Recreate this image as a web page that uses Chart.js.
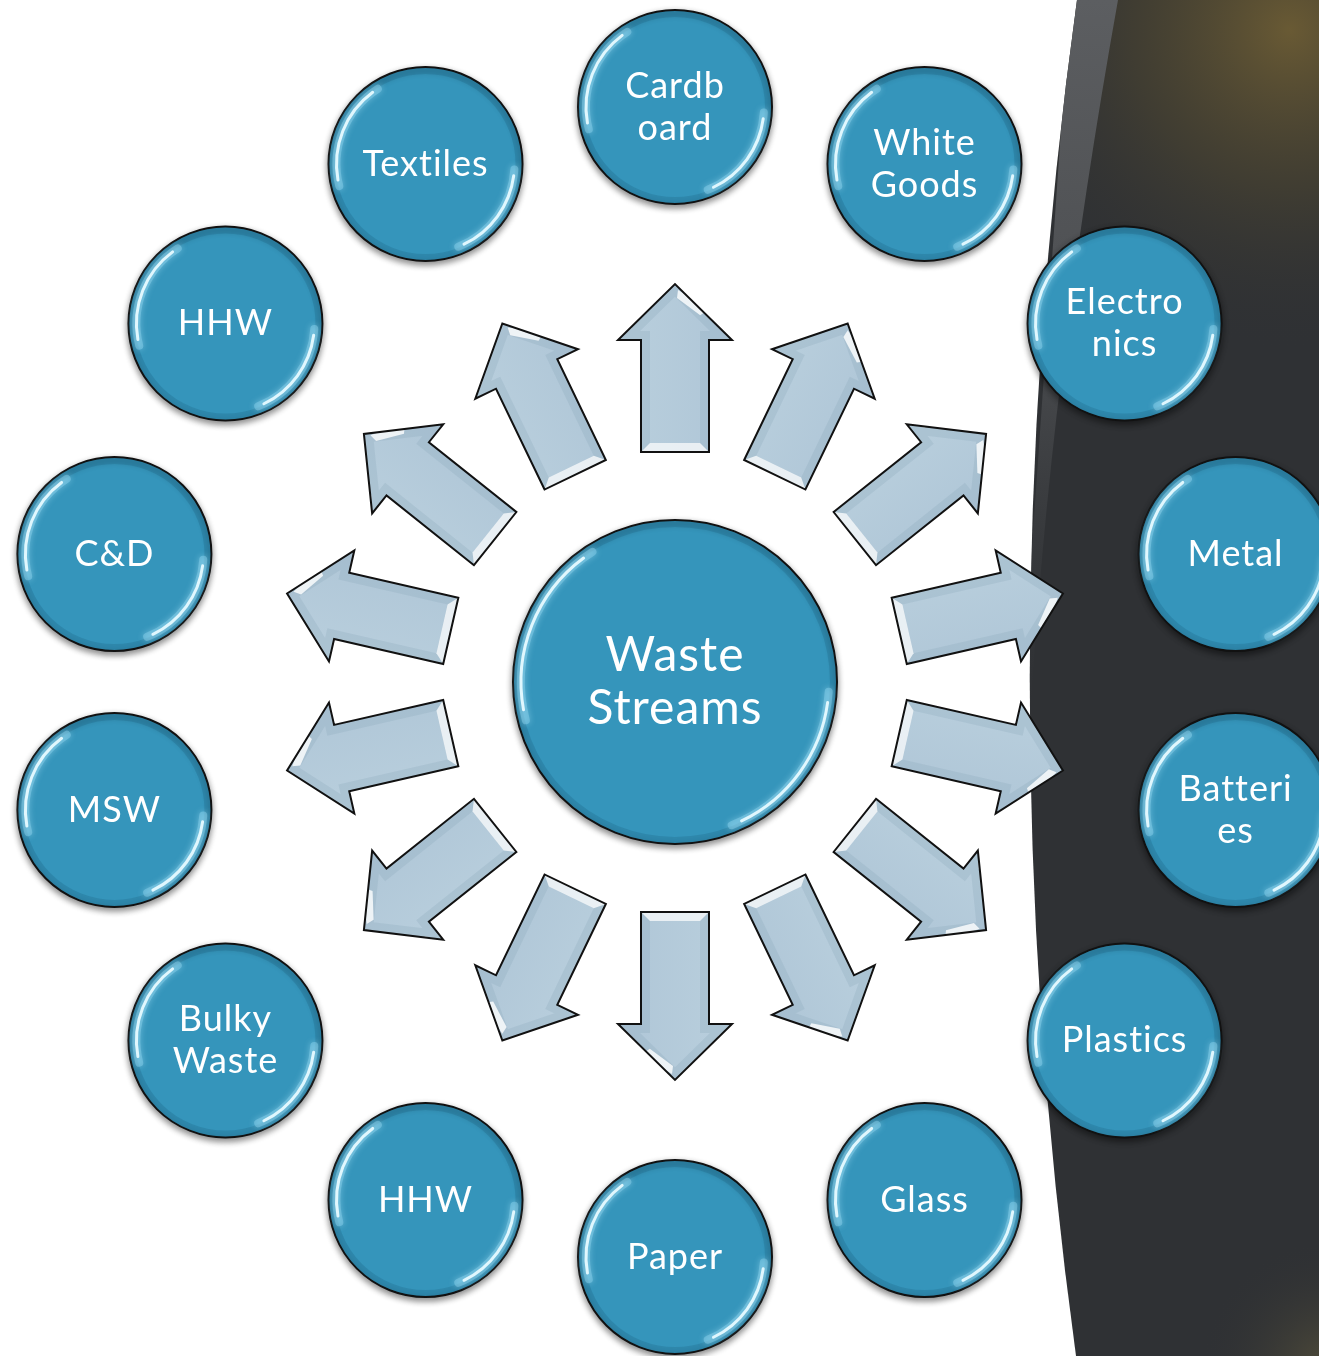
<!DOCTYPE html>
<html>
<head>
<meta charset="utf-8">
<script src="https://cdn.jsdelivr.net/npm/chart.js@4.4.1/dist/chart.umd.min.js"></script>
<style>
  html, body { margin: 0; padding: 0; background: #fff; }
  canvas { display: block; }
</style>
</head>
<body>
<canvas id="wasteChart" width="1319" height="1356"></canvas>
<script>
// outer nodes, clockwise from the top
var streams = ['Cardb\noard', 'White\nGoods', 'Electro\nnics', 'Metal', 'Batteri\nes', 'Plastics', 'Glass',
               'Paper', 'HHW', 'Bulky\nWaste', 'MSW', 'C&D', 'HHW', 'Textiles'];
var hubLabel = 'Waste\nStreams';
var ringRadius = 1;                  // outer nodes sit on the unit ring
var arrowStart = 0.4, arrowEnd = 0.692;

var nodePoints = streams.map(function (s, i) {
  var a = i * 2 * Math.PI / streams.length;
  return { x: ringRadius * Math.sin(a), y: ringRadius * Math.cos(a), label: s };
});
var hubPoint = [{ x: 0, y: 0, label: hubLabel }];

var FONT = 'Lato, "Open Sans", sans-serif';
var NODE_BLUE = '#3595bb';

function bevelCircle(ctx, x, y, r) {
  ctx.save();
  ctx.lineCap = 'round';
  ctx.beginPath();
  ctx.arc(x, y, r - 4, 0, Math.PI * 2);
  ctx.lineWidth = 6;
  ctx.strokeStyle = 'rgba(20,80,110,0.2)';
  ctx.stroke();
  // glossy highlights left and lower-right
  [[Math.PI * 0.92, Math.PI * 1.32], [Math.PI * 0.02, Math.PI * 0.38]].forEach(function (seg) {
    ctx.save();
    ctx.shadowColor = 'rgba(180,235,255,0.9)';
    ctx.shadowBlur = 6;
    ctx.beginPath();
    ctx.arc(x, y, r - 8, seg[0], seg[1]);
    ctx.lineWidth = 8;
    ctx.strokeStyle = 'rgba(140,210,238,0.45)';
    ctx.stroke();
    ctx.restore();
    ctx.beginPath();
    ctx.arc(x, y, r - 8, seg[0] + 0.07, seg[1] - 0.07);
    ctx.lineWidth = 3;
    ctx.strokeStyle = 'rgba(230,250,255,0.95)';
    ctx.stroke();
  });
  ctx.restore();
}

function drawLabel(ctx, text, x, y, size, lineH) {
  var lines = text.split('\n');
  ctx.save();
  ctx.fillStyle = '#ffffff';
  ctx.font = size + 'px ' + FONT;
  ctx.textAlign = 'center';
  ctx.textBaseline = 'middle';
  if ('letterSpacing' in ctx) ctx.letterSpacing = '1px';
  var top = y - (lines.length - 1) * lineH / 2;
  lines.forEach(function (l, k) { ctx.fillText(l, x, top + k * lineH); });
  ctx.restore();
}

function arrowPath(ctx, pts) {
  ctx.beginPath();
  pts.forEach(function (q, k) { k ? ctx.lineTo(q[0], q[1]) : ctx.moveTo(q[0], q[1]); });
  ctx.closePath();
}

var backdrop = {
  id: 'backdrop',
  beforeDraw: function (chart) {
    var ctx = chart.ctx, w = chart.width, h = chart.height;
    ctx.save();
    ctx.fillStyle = '#ffffff';
    ctx.fillRect(0, 0, w, h);
    // dark curved panel on the right
    ctx.beginPath();
    ctx.moveTo(1077, 0);
    ctx.quadraticCurveTo(983, 678, 1076, h);
    ctx.lineTo(w, h);
    ctx.lineTo(w, 0);
    ctx.closePath();
    ctx.fillStyle = '#2f3134';
    ctx.fill();
    ctx.clip();
    var g = ctx.createRadialGradient(1290, 30, 0, 1290, 30, 320);
    g.addColorStop(0, 'rgba(108,92,52,0.95)');
    g.addColorStop(0.5, 'rgba(80,72,48,0.5)');
    g.addColorStop(1, 'rgba(47,49,52,0)');
    ctx.fillStyle = g;
    ctx.fillRect(900, 0, 420, 400);
    var g2 = ctx.createRadialGradient(1330, 1370, 0, 1330, 1370, 130);
    g2.addColorStop(0, 'rgba(95,88,60,0.7)');
    g2.addColorStop(1, 'rgba(47,49,52,0)');
    ctx.fillStyle = g2;
    ctx.fillRect(1150, 1200, 170, 160);
    // lighter strip along the curved edge
    ctx.beginPath();
    ctx.moveTo(1070, 0);
    ctx.lineTo(1118, 0);
    ctx.quadraticCurveTo(1050, 380, 1030, 720);
    ctx.lineTo(1020, 720);
    ctx.closePath();
    var gs = ctx.createLinearGradient(0, 0, 0, 720);
    gs.addColorStop(0, 'rgba(92,94,97,1)');
    gs.addColorStop(0.45, 'rgba(80,82,85,0.9)');
    gs.addColorStop(1, 'rgba(55,57,60,0)');
    ctx.fillStyle = gs;
    ctx.fill();
    ctx.restore();
  },
  beforeDatasetsDraw: function (chart) {
    // arrows pointing from hub to each stream
    var ctx = chart.ctx, xs = chart.scales.x, ys = chart.scales.y;
    nodePoints.forEach(function (p) {
      var x0 = xs.getPixelForValue(p.x * arrowStart), y0 = ys.getPixelForValue(p.y * arrowStart);
      var x1 = xs.getPixelForValue(p.x * arrowEnd), y1 = ys.getPixelForValue(p.y * arrowEnd);
      var len = Math.hypot(x1 - x0, y1 - y0);
      var hw = 34, hh = 57, head = 56, b = 9;
      var pts = [[0, -hw], [len - head, -hw], [len - head, -hh], [len, 0], [len - head, hh], [len - head, hw], [0, hw]];
      ctx.save();
      ctx.translate(x0, y0);
      ctx.rotate(Math.atan2(y1 - y0, x1 - x0));
      arrowPath(ctx, pts);
      var fg = ctx.createLinearGradient(0, -hh, 0, hh);
      fg.addColorStop(0, '#b9cfdd');
      fg.addColorStop(1, '#afc6d7');
      ctx.fillStyle = fg;
      ctx.fill();
      ctx.save();
      ctx.clip();
      ctx.lineWidth = b * 2;
      ctx.strokeStyle = 'rgba(140,168,188,0.28)';
      ctx.stroke();
      // bevel facets
      ctx.fillStyle = 'rgba(255,255,255,0.75)';
      ctx.beginPath();
      ctx.moveTo(0, -hw); ctx.lineTo(b, -hw + b); ctx.lineTo(b, hw - b); ctx.lineTo(0, hw);
      ctx.closePath();
      ctx.fill();
      ctx.fillStyle = 'rgba(255,255,255,0.6)';
      ctx.beginPath();
      ctx.moveTo(len - head, -hh); ctx.lineTo(len - head + 24, -hh + 14); ctx.lineTo(len - head + 12, -hh + 14);
      ctx.closePath();
      ctx.fill();
      ctx.fillStyle = 'rgba(255,255,255,0.8)';
      ctx.beginPath();
      ctx.moveTo(len - 6, 3); ctx.lineTo(len - head * 0.45, hh * 0.6); ctx.lineTo(len - head * 0.45 - 6, hh * 0.6 - 9); ctx.lineTo(len - 14, 2);
      ctx.closePath();
      ctx.fill();
      ctx.restore();
      arrowPath(ctx, pts);
      ctx.lineWidth = 2;
      ctx.lineJoin = 'miter';
      ctx.strokeStyle = '#111';
      ctx.stroke();
      ctx.restore();
    });
  },
  beforeDatasetDraw: function (chart) {
    var ctx = chart.ctx;
    ctx.save();
    ctx.shadowColor = 'rgba(0,0,0,0.45)';
    ctx.shadowBlur = 6;
    ctx.shadowOffsetY = 3;
  },
  afterDatasetDraw: function (chart) {
    chart.ctx.restore();
  },
  afterDatasetsDraw: function (chart) {
    var ctx = chart.ctx;
    chart.data.datasets.forEach(function (ds, di) {
      var meta = chart.getDatasetMeta(di);
      meta.data.forEach(function (el, i) {
        var r = ds.pointRadius;
        bevelCircle(ctx, el.x, el.y, r);
        var big = di === 1;
        drawLabel(ctx, ds.data[i].label, el.x, el.y, big ? 48 : 36, big ? 53 : 42);
      });
    });
  }
};

new Chart('wasteChart', {
  type: 'scatter',
  data: {
    datasets: [{
      label: 'Streams',
      data: nodePoints,
      pointRadius: 97,
      pointHoverRadius: 97,
      backgroundColor: NODE_BLUE,
      borderColor: '#111',
      borderWidth: 2,
      clip: false
    }, {
      label: 'Hub',
      data: hubPoint,
      pointRadius: 162,
      pointHoverRadius: 162,
      backgroundColor: NODE_BLUE,
      borderColor: '#111',
      borderWidth: 2,
      clip: false
    }]
  },
  options: {
    responsive: false,
    devicePixelRatio: 1,
    animation: false,
    events: [],
    layout: { padding: 0, autoPadding: false },
    plugins: { legend: { display: false }, tooltip: { enabled: false } },
    scales: {
      x: { type: 'linear', display: false, min: -1.1739, max: 1.1200 },
      y: { type: 'linear', display: false, min: -1.1722, max: 1.1861 }
    }
  },
  plugins: [backdrop]
});
</script>
</body>
</html>
